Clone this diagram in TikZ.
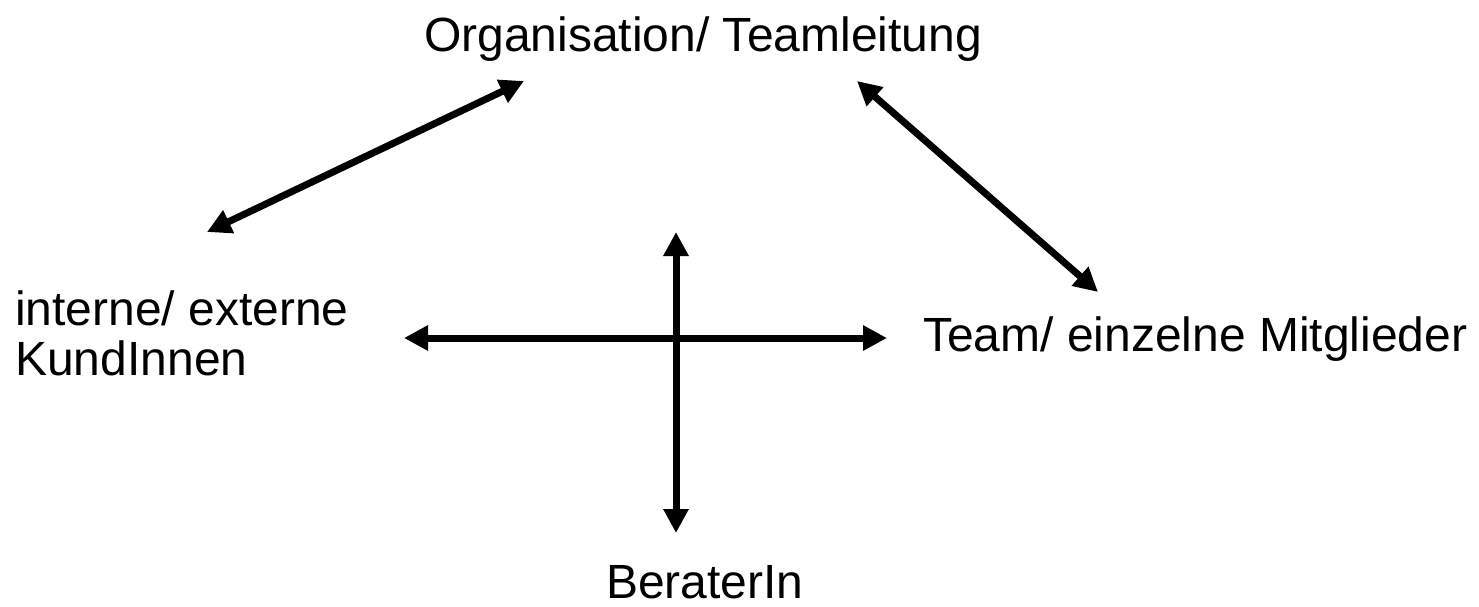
\documentclass[tikz,border=0pt]{standalone}
\usepackage{fontspec}
\setmainfont{Liberation Sans}
\usetikzlibrary{arrows.meta}
\tikzset{
  label text/.style={inner sep=0pt, font=\fontsize{48}{50}\selectfont},
  both ways/.style={line width=7pt, {Triangle[length=24pt,width=24pt]}-{Triangle[length=24pt,width=24pt]}}
}
\begin{document}
\begin{tikzpicture}[x=1pt,y=-1pt]
  \useasboundingbox (0,0) rectangle (1479,607);
  % labels
  \node[label text, anchor=base west] (org) at (424,52) {Organisation/ Teamleitung};
  \node[label text, anchor=north west, align=left] (kund) at (15,291) {interne/ externe\\KundInnen};
  \node[label text, anchor=base west] (team) at (923,351) {Team/ einzelne Mitglieder};
  \node[label text, anchor=base west] (berat) at (606,598) {BeraterIn};
  % arrow ends
  \coordinate (kOrg) at (207,232);
  \coordinate (oKund) at (524,81);
  \coordinate (oTeam) at (857,81);
  \coordinate (tOrg) at (1098,292);
  \coordinate (hL) at (404,338);
  \coordinate (hR) at (887,338);
  \coordinate (vT) at (676,232);
  \coordinate (vB) at (676,533);
  % connectors
  \draw[both ways] (kOrg) -- (oKund);
  \draw[both ways] (oTeam) -- (tOrg);
  \draw[both ways] (hL) -- (hR);
  \draw[both ways] (vT) -- (vB);
\end{tikzpicture}
\end{document}
